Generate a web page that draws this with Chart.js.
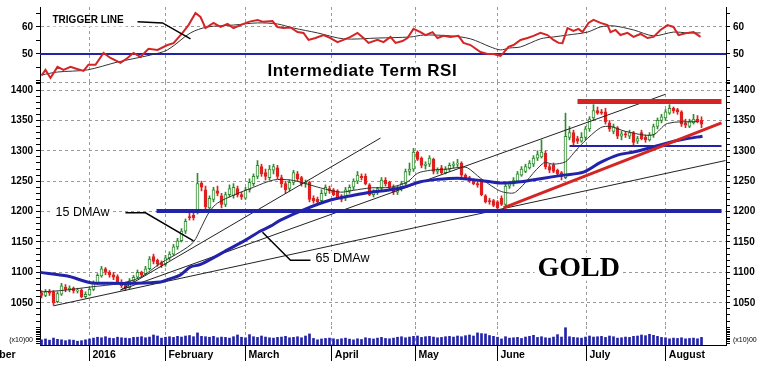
<!DOCTYPE html>
<html>
<head>
<meta charset="utf-8">
<script src="https://cdn.jsdelivr.net/npm/chart.js@4.4.0/dist/chart.umd.min.js"></script>
<style>
  html, body { margin: 0; padding: 0; background: #fff; width: 765px; height: 368px; overflow: hidden; }
  .pane { position: absolute; left: 0; width: 765px; }
</style>
</head>
<body>
<div class="pane" style="top:0;height:82px"><canvas id="rsiChart"></canvas></div>
<div class="pane" style="top:82px;height:244px"><canvas id="priceChart"></canvas></div>
<div class="pane" style="top:326px;height:42px"><canvas id="volChart"></canvas></div>
<script>
// Gold daily candles, mid-Dec 2015 .. mid-Aug 2016 (one entry per trading day)
const opens = [
  1066,1062,1068,1068,1052,1064,1076,1071,1074,1069,
  1071,1060,1063,1072,1082,1094,1106,1100,1096,1093,
  1084,1080,1075,1086,1092,1100,1098,1106,1126,1120,
  1116,1113,1124,1130,1142,1152,1168,1192,1194,1198,
  1247,1236,1206,1220,1234,1226,1212,1228,1226,1238,
  1228,1222,1236,1246,1258,1274,1264,1256,1268,1272,
  1256,1246,1238,1248,1262,1256,1246,1248,1222,1220,
  1218,1230,1238,1236,1234,1226,1222,1234,1240,1250,
  1258,1258,1244,1228,1232,1238,1252,1248,1240,1232,
  1238,1246,1266,1270,1298,1288,1276,1278,1286,1266,
  1272,1264,1270,1276,1278,1280,1260,1256,1252,1246,
  1248,1226,1218,1218,1216,1222,1212,1242,1246,1250,
  1260,1266,1272,1278,1288,1290,1296,1274,1276,1268,
  1264,1256,1322,1330,1320,1316,1322,1336,1354,1366,
  1364,1364,1346,1332,1338,1324,1328,1324,1330,1316,
  1330,1322,1318,1326,1340,1350,1354,1362,1370,1368,
  1364,1346,1340,1346,1352,1350
];
const highs = [
  1070,1072,1072,1070,1068,1082,1080,1078,1076,1074,
  1073,1068,1076,1086,1098,1110,1108,1103,1100,1096,
  1088,1084,1090,1095,1104,1102,1110,1126,1130,1122,
  1119,1128,1134,1146,1156,1172,1188,1198,1200,1263,
  1250,1242,1226,1240,1242,1230,1232,1244,1246,1242,
  1232,1240,1254,1262,1284,1278,1270,1276,1278,1276,
  1260,1250,1252,1268,1266,1258,1252,1250,1226,1224,
  1236,1244,1242,1238,1236,1228,1240,1244,1254,1266,
  1262,1262,1246,1236,1240,1256,1256,1250,1244,1242,
  1250,1270,1280,1304,1300,1290,1282,1292,1288,1272,
  1276,1274,1280,1282,1286,1282,1262,1258,1254,1250,
  1250,1228,1222,1220,1218,1226,1246,1250,1256,1266,
  1274,1278,1284,1292,1300,1318,1300,1278,1280,1270,
  1266,1362,1340,1334,1324,1330,1340,1356,1376,1372,
  1368,1370,1350,1344,1340,1332,1332,1334,1332,1324,
  1334,1326,1330,1344,1354,1360,1368,1376,1372,1370,
  1366,1352,1352,1360,1358,1356
];
const lows = [
  1058,1060,1062,1046,1050,1062,1068,1068,1066,1066,
  1058,1058,1062,1070,1080,1092,1096,1092,1088,1082,
  1075,1070,1073,1084,1090,1092,1096,1104,1114,1110,
  1108,1110,1120,1128,1138,1150,1164,1186,1186,1196,
  1234,1200,1200,1216,1226,1206,1208,1224,1222,1224,
  1220,1220,1232,1242,1254,1258,1252,1252,1262,1254,
  1240,1230,1234,1244,1250,1242,1240,1216,1214,1212,
  1214,1226,1230,1226,1220,1216,1218,1230,1236,1246,
  1252,1244,1226,1224,1228,1236,1242,1236,1228,1228,
  1234,1244,1260,1266,1284,1272,1270,1274,1262,1262,
  1262,1262,1266,1272,1274,1256,1254,1248,1244,1240,
  1226,1214,1212,1208,1204,1210,1208,1238,1242,1248,
  1258,1264,1270,1274,1284,1288,1270,1264,1264,1258,
  1252,1254,1318,1310,1312,1314,1318,1332,1350,1360,
  1360,1344,1332,1328,1320,1318,1322,1320,1310,1312,
  1318,1314,1316,1322,1336,1346,1350,1360,1362,1360,
  1340,1338,1338,1344,1346,1338
];
const closes = [
  1062,1068,1066,1050,1065,1078,1072,1074,1070,1071,
  1060,1064,1072,1082,1095,1106,1100,1096,1092,1084,
  1078,1074,1086,1092,1100,1096,1106,1122,1118,1114,
  1112,1124,1130,1142,1152,1168,1184,1190,1190,1246,
  1240,1208,1222,1236,1230,1212,1228,1238,1240,1228,
  1224,1236,1248,1258,1276,1262,1258,1270,1274,1258,
  1246,1236,1248,1264,1254,1246,1248,1220,1218,1216,
  1230,1240,1234,1228,1222,1220,1236,1240,1250,1260,
  1256,1246,1228,1232,1238,1252,1246,1240,1232,1238,
  1246,1266,1270,1298,1286,1276,1278,1288,1266,1268,
  1264,1270,1276,1278,1280,1260,1256,1250,1246,1244,
  1228,1216,1216,1210,1206,1212,1242,1246,1252,1262,
  1270,1274,1280,1288,1294,1298,1274,1268,1266,1262,
  1258,1324,1330,1314,1316,1322,1336,1352,1366,1362,
  1362,1348,1336,1340,1324,1328,1326,1330,1314,1320,
  1320,1318,1326,1340,1350,1356,1364,1370,1366,1364,
  1344,1342,1348,1352,1348,1344
];
// volume, hundreds of thousands (bottom strip)
const volume = [
  30,35,28,40,33,30,25,30,28,22,25,30,35,
  40,45,42,48,40,38,45,42,40,38,44,45,48,42,46,58,52,40,45,
  48,44,50,46,52,55,48,70,50,48,45,50,42,46,44,40,48,58,45,42,
  60,48,44,52,46,42,40,44,46,50,42,44,48,42,52,64,38,30,35,38,40,36,
  32,36,40,34,30,36,32,42,38,35,40,44,38,36,40,45,48,42,46,50,
  52,44,48,50,46,42,44,48,50,46,52,48,54,58,52,70,66,64,55,50,45,
  35,48,40,42,44,38,46,50,56,44,48,42,40,46,60,46,100,48,44,42,40,46,
  52,46,48,50,44,52,48,40,42,46,44,50,52,58,54,62,56,50,44,42,
  36,40,38,42,36,38,40,36,44
];

// intermediate term RSI (red) and its trigger line, as [day, value]
const rsi = [
  [0,42],[1,44.1],[2.25,41.1],[4,45.2],[5.5,44.1],[7.25,45.2],[8.5,44.6],[10.5,43.7],[11.75,46],[13.5,46],
  [15.5,50.4],[17.25,48.5],[19.75,46.7],[21.5,48.5],[23,50.4],[24.75,48.9],[26.75,51.9],[29,51.5],[31.5,53.3],[33,54],
  [35.25,57.8],[36.75,60.7],[38.5,65.2],[39.75,63.7],[41,59.6],[43,61.5],[44.75,60],[46.5,61.1],[48,59.6],[49.75,60.7],
  [51.75,61.9],[54,62.6],[55.5,61.9],[57.75,62.2],[59,60],[60.5,59.6],[62.25,59.8],[64,58.1],[65.5,57.8],[66.75,55.2],
  [68.5,55.9],[70.5,57],[72.25,55.9],[74,54.4],[75.5,55.2],[77.25,56.3],[79,57.8],[80.5,55.9],[81.75,54.1],[84,55.2],
  [85.5,54.4],[87.25,56.3],[88.5,54.1],[90.25,54.8],[91.5,55.9],[93,59.3],[94.75,58.1],[96,57],[97.75,58.1],[99,55.9],
  [100.5,56.7],[102.25,56.3],[104.25,56.7],[105.5,54.1],[107.25,53.3],[109.75,50.7],[111.5,50],[113,50],[114.75,49.3],[115.5,50.4],
  [116.75,52.6],[118,53.3],[119.75,55.2],[121.5,55.9],[123,56.7],[124.75,57.8],[126.5,57],[128,55.2],[129.25,54.1],[130.25,54],
  [131.5,59.6],[133,58.5],[134.25,59.3],[135.25,58.1],[136.75,61.5],[138,62.6],[139.75,61.5],[141.5,60.7],[142.25,58.1],[143.5,58.9],
  [144.75,57],[146.5,57.8],[148,56.3],[149.75,57.4],[151.5,55.9],[153,56.3],[154.75,58.9],[156.5,60.7],[158,60],[159.25,57],
  [161.5,57.8],[163,58.1],[164.75,56.3]
];
const trigger = [
  [0,42.2],[4,43.3],[11.5,44.1],[19,47],[27.25,49.6],[31.5,51.5],[37.25,57.8],[41.5,60],[48,60.7],[54,61.5],
  [59,61.1],[63,59.6],[69,57.8],[75.5,55.6],[84,55.9],[92.25,56.3],[95.5,57],[102.25,56.7],[107.25,55.6],[112.25,52.6],
  [114.75,51.5],[117,52.2],[119.75,52.6],[124.75,55.6],[128,56.3],[131.5,57],[136.5,58.1],[139.75,60],[143,60.4],[148,58.9],
  [153,56.7],[158,58.1],[161.5,57.8],[164.75,57.8]
];

// 15 and 65 day weighted moving averages
const ma15 = [
  [0,1068],[4.75,1070],[12.25,1076],[19.75,1082],[24.75,1092],[29.75,1115],[34.75,1134],[38,1150],[40,1175],[42,1200],
  [44,1214],[48,1227],[53,1240],[58,1252],[62.25,1252],[65.5,1247],[69.75,1239],[74.75,1232],[78,1235],[82.25,1239],
  [87.25,1240],[91.5,1249],[94,1263],[97.25,1268],[101.5,1270],[104.75,1273],[106.5,1272],[109.75,1255],[113.5,1238],[115.5,1232],
  [118.5,1232],[125.5,1280],[128,1278],[131,1282],[133,1296],[135.5,1314],[139.75,1338],[142.25,1340],[146,1332],[152.75,1326],
  [156.5,1345],[164,1348]
];
const ma65 = [
  [-0.3,1100],[6.5,1094],[12.25,1083],[17.25,1082],[23,1082],[29.75,1084],[31.5,1088],[34.75,1096],[37.25,1109],[39.75,1113],
  [46.5,1137],[51,1153],[54.75,1168],[57.25,1176],[59.75,1186],[65.5,1203],[72.25,1219],[78,1227],[82.25,1232],[86.5,1235],
  [90.5,1240],[94.75,1249],[99,1253],[104,1255],[107.25,1253],[112.25,1249],[115.5,1247],[119.75,1249],[125.5,1255],[130.5,1260],
  [135.5,1265],[139.75,1281],[144,1293],[148,1298],[152.25,1305],[156.5,1313],[160.5,1319],[165.25,1324]
];

// hand drawn trend lines [day, price]
const fanSteep = [[19.75,1071],[84.75,1321]];
const fanMid = [[19.75,1071],[156,1393]];
const fanLow = [[3,1045],[171,1284]];
const redTrend = [[115.5,1206],[170,1346]];
const redTop = [[134,1381],[170,1381]];
const blueSupport = [[132,1308],[170,1308]];
const blueBase = [[28.75,1201],[170,1201]];
// label pointers
const triggerPointer = [[24,61.9],[30.25,61.5],[37.25,55.6]];
const ma15Pointer = [[21,1198],[26,1198],[38,1152]];
const ma65Pointer = [[55.25,1166],[62.25,1120],[67.25,1120]];

// month starts on the day axis
const monthPos = [-19.9, 12, 31, 51, 72.6, 93.5, 114, 136.25, 156.1];
const monthNames = ['December', '2016', 'February', 'March', 'April', 'May', 'June', 'July', 'August'];

const FONT = '"Liberation Sans", Arial, sans-serif';
Chart.defaults.font.family = FONT;
Chart.defaults.animation = false;

const X_MIN = -0.375, X_MAX = 171.125;
const GRID = '#9a9a9a';
const UP = '#2e8b2e', DOWN = '#dd2020', BLUE = '#2222aa', RED = '#d42424';

// text notes drawn over the grid
const notes = {
  id: 'notes',
  beforeDatasetsDraw(chart, args, opts) {
    const { ctx, scales } = chart;
    (opts.items || []).forEach(n => {
      ctx.save();
      ctx.font = n.font;
      if (n.spacing) ctx.letterSpacing = n.spacing;
      ctx.textBaseline = 'middle';
      const px = scales.x.getPixelForValue(n.x);
      const py = scales.y.getPixelForValue(n.y);
      const w = ctx.measureText(n.text).width;
      ctx.fillStyle = '#fff';
      ctx.fillRect(px - 3, py - n.h / 2, w + 6, n.h);
      ctx.fillStyle = '#000';
      ctx.fillText(n.text, px, py);
      ctx.restore();
    });
  }
};

function line(points, color, width, order, tension) {
  return {
    type: 'line', yAxisID: 'y',
    data: points.map(p => ({ x: p[0], y: p[1] })),
    borderColor: color, borderWidth: width,
    pointRadius: 0, tension: tension || 0, fill: false, order: order
  };
}

function gridX(height, labels) {
  const ax = {
    type: 'linear', min: X_MIN, max: X_MAX, offset: false,
    afterBuildTicks: s => { s.ticks = monthPos.map(v => ({ value: v })); },
    afterFit: s => { s.height = height; s.paddingLeft = 0; s.paddingRight = 0; },
    grid: { color: GRID, offset: false, drawTicks: labels, tickColor: '#000', tickLength: 16 },
    border: { display: labels, color: '#000', width: 1, dash: [3, 3] },
    ticks: { display: labels }
  };
  if (labels) {
    ax.ticks = {
      display: true, autoSkip: false, maxRotation: 0, minRotation: 0, align: 'start', padding: -12,
      color: '#000', font: { family: FONT, size: 10.5, weight: 'bold' },
      callback: (v, i) => ' ' + monthNames[i]
    };
  }
  return ax;
}

function sideY(position, min, max, tickVals, labelOf, gridOf, font) {
  const left = position === 'left';
  return {
    position: position, min: min, max: max, beginAtZero: false,
    afterBuildTicks: s => { s.ticks = tickVals.map(v => ({ value: v })); },
    afterFit: s => { s.width = left ? 40 : 39; s.paddingTop = 0; s.paddingBottom = 0; },
    ticks: { autoSkip: false, padding: 3, color: '#000', font: font, callback: v => labelOf(v) },
    grid: {
      drawOnChartArea: left, tickLength: 4, tickColor: '#000',
      color: c => gridOf(c.tick ? c.tick.value : null)
    },
    border: { display: true, color: '#000', width: 1, dash: [3, 3] }
  };
}

const axisFont = { family: FONT, size: 10, weight: 'bold' };
const noGrid = () => 'rgba(0,0,0,0)';

// ---------- RSI panel ----------
const rsiTicks = [40, 45, 50, 55, 60, 65];
const rsiLabel = v => (v === 50 || v === 60) ? String(v) : '';
const rsiGrid = v => v === 60 ? GRID : 'rgba(0,0,0,0)';
new Chart(document.getElementById('rsiChart'), {
  type: 'line',
  data: {
    datasets: [
      line(triggerPointer, '#000', 1.5, 0),
      line(rsi, RED, 2, 1),
      line(trigger, '#333', 1, 2, 0.3),
      line([[X_MIN, 50], [X_MAX, 50]], BLUE, 2, 3)
    ]
  },
  options: {
    responsive: true, maintainAspectRatio: false,
    layout: { padding: { top: 7, left: 0, right: 0, bottom: 0 } },
    plugins: {
      legend: { display: false }, tooltip: { enabled: false },
      notes: { items: [
        { text: 'TRIGGER LINE', x: 2.75, y: 62.4, font: 'bold 10px ' + FONT, h: 12 },
        { text: 'Intermediate Term RSI', x: 56.5, y: 43.4, font: 'bold 17px ' + FONT, spacing: '0.5px', h: 18 }
      ] }
    },
    scales: {
      x: gridX(0, false),
      y: sideY('left', 39.6, 67.4, rsiTicks, rsiLabel, rsiGrid, axisFont),
      y2: sideY('right', 39.6, 67.4, rsiTicks, rsiLabel, noGrid, axisFont)
    }
  },
  plugins: [notes]
});

// ---------- price panel ----------
const PRICE_MIN = 1011.8, PRICE_MAX = 1413.2;
const priceTicks = [];
for (let v = 1020; v <= 1410; v += 10) priceTicks.push(v);
priceTicks.push(PRICE_MAX);
const priceLabel = v => (v % 50 === 0) ? String(v) : '';
const priceGrid = v => (v % 50 === 0 || v === PRICE_MAX) ? GRID : 'rgba(0,0,0,0)';
const days = closes.map((c, i) => i);
const isUp = i => closes[i] >= opens[i];

new Chart(document.getElementById('priceChart'), {
  type: 'line',
  data: {
    datasets: [
      line(ma15Pointer, '#000', 1.5, 0),
      line(ma65Pointer, '#000', 1.5, 0),
      line(redTop, RED, 5, 1),
      line(redTrend, RED, 3, 1),
      line(blueBase, BLUE, 4, 2),
      line(blueSupport, BLUE, 2, 2),
      line(ma65, BLUE, 3, 3, 0.3),
      line(ma15, '#333', 1, 4, 0.3),
      line(fanSteep, '#222', 1, 5),
      line(fanMid, '#222', 1, 5),
      line(fanLow, '#222', 1, 5),
      {
        type: 'bar', yAxisID: 'y', grouped: false, order: 10,
        data: days.map(i => ({ x: i, y: [opens[i], closes[i]] })),
        barThickness: 3, borderWidth: 1, borderSkipped: false,
        backgroundColor: c => isUp(c.dataIndex) ? '#fff' : DOWN,
        borderColor: c => isUp(c.dataIndex) ? UP : DOWN
      },
      {
        type: 'bar', yAxisID: 'y', grouped: false, order: 11,
        data: days.map(i => ({ x: i, y: [lows[i], highs[i]] })),
        barThickness: 1,
        backgroundColor: c => isUp(c.dataIndex) ? UP : DOWN
      }
    ]
  },
  options: {
    responsive: true, maintainAspectRatio: false,
    layout: { padding: 0 },
    plugins: {
      legend: { display: false }, tooltip: { enabled: false },
      notes: { items: [
        { text: '15 DMAw', x: 3.5, y: 1199, font: '12.5px ' + FONT, h: 14 },
        { text: '65 DMAw', x: 68.5, y: 1123.5, font: '12.5px ' + FONT, h: 14 },
        { text: 'GOLD', x: 124, y: 1106, font: 'bold 28px "Liberation Serif", "Times New Roman", serif', h: 24 }
      ] }
    },
    scales: {
      x: gridX(0, false),
      y: sideY('left', PRICE_MIN, PRICE_MAX, priceTicks, priceLabel, priceGrid, axisFont),
      y2: sideY('right', PRICE_MIN, PRICE_MAX, priceTicks, priceLabel, noGrid, axisFont)
    }
  },
  plugins: [notes]
});

// ---------- volume strip + month axis ----------
const volTicks = [10, 20, 30, 40, 50, 60, 70, 80, 90, 100];
const volLabel = v => v === 30 ? '(x10)00' : '';
const volFont = { family: FONT, size: 7 };
new Chart(document.getElementById('volChart'), {
  type: 'line',
  data: {
    datasets: [{
      type: 'bar', yAxisID: 'y', grouped: false,
      data: days.map(i => ({ x: i, y: volume[i] })),
      barThickness: 2, backgroundColor: BLUE
    }]
  },
  options: {
    responsive: true, maintainAspectRatio: false,
    layout: { padding: 0 },
    plugins: { legend: { display: false }, tooltip: { enabled: false } },
    scales: {
      x: gridX(23, true),
      y: sideY('left', 0, 110, volTicks, volLabel, noGrid, volFont),
      y2: sideY('right', 0, 110, volTicks, volLabel, noGrid, volFont)
    }
  }
});
</script>
</body>
</html>
